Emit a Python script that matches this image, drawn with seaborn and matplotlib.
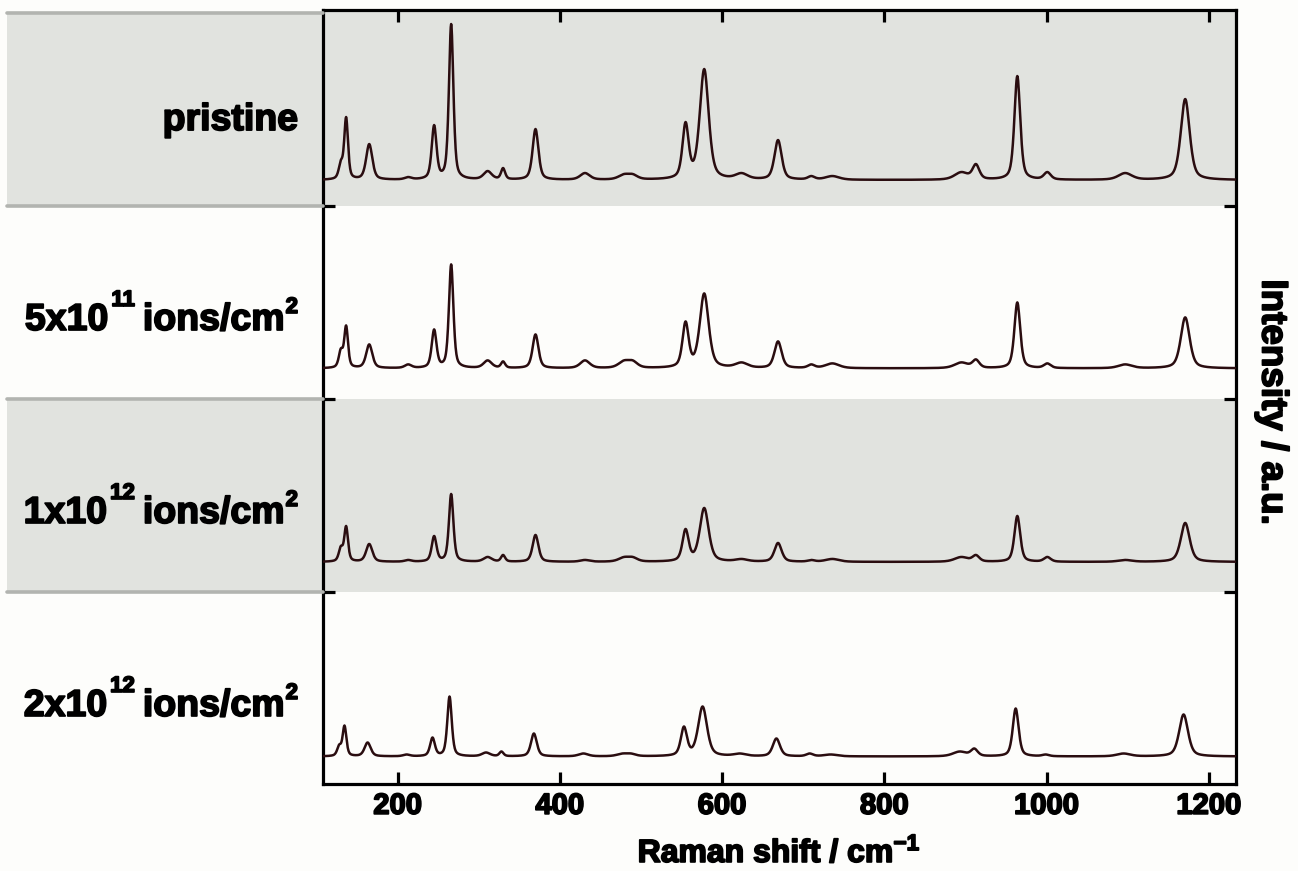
import numpy as np
import pandas as pd
import matplotlib
matplotlib.use("Agg")
import matplotlib.pyplot as plt
import matplotlib.patheffects as pe
import seaborn as sns
from matplotlib.patches import Rectangle
from matplotlib.lines import Line2D
from matplotlib.transforms import blended_transform_factory

# ---------------------------------------------------------------- data
# sample labels as (text, superscript) pieces
label_pristine = [("pristine", None)]
label_5e11 = [("5x10", "11"), ("ions/cm", "2")]
label_1e12 = [("1x10", "12"), ("ions/cm", "2")]
label_2e12 = [("2x10", "12"), ("ions/cm", "2")]
sample_labels = [label_pristine, label_5e11, label_1e12, label_2e12]

# Raman bands: centre (cm-1) and full width at half maximum (cm-1)
peak_centre = [130, 136.5, 165, 213, 245, 266, 311, 330, 370, 431, 479, 490,
               555, 578, 624, 669, 710, 736, 895, 913, 964, 1001, 1097, 1171]
peak_fwhm = [6, 5.5, 9, 10, 7, 6.5, 12, 6, 8.5, 14, 16, 14,
             9, 13, 18, 10.5, 10, 20, 20, 10, 8.5, 10, 20, 13]

# apparent band heights above the baseline (a.u.) for each fluence
height_pristine = [20, 63, 36, 3, 55, 156, 9, 12, 51, 7, 6, 6,
                   58, 111, 7, 40, 4, 4, 8, 16, 104, 8, 7, 81]
height_5e11 = [20, 43, 24, 4, 39, 104, 8, 7, 34, 8, 8, 8,
               47, 75, 6, 27, 4, 5, 6, 9, 66, 5, 4, 51]
height_1e12 = [16, 36, 18, 2, 26, 68, 5, 7, 27, 2, 5, 5,
               33, 54, 3, 19, 2, 3, 5, 7, 46, 5, 2, 39]
height_2e12 = [12, 31, 14, 2, 19, 60, 4, 5, 23, 3, 3, 3,
               30, 50, 3, 18, 3, 2, 5, 8, 48, 2, 3, 42]

# small peak shift of each sample (cm-1) and baseline level inside its panel
peak_shift = [0.0, 0.0, 0.0, -2.0]
baseline_level = [0.137, 0.161, 0.158, 0.150]

heights = [height_pristine, height_5e11, height_1e12, height_2e12]

# ---------------------------------------------------------------- spectra
def pseudo_voigt(x, c, w, eta=0.5):
    lor = 1.0 / (1.0 + ((x - c) / (w / 2.0)) ** 2)
    gau = np.exp(-4.0 * np.log(2.0) * ((x - c) / w) ** 2)
    return eta * lor + (1 - eta) * gau

wn = np.arange(108.0, 1233.5, 0.5)
centre = np.asarray(peak_centre, float)
fwhm = np.asarray(peak_fwhm, float)
units_per_panel = 193.0

frames = []
n_panels = len(sample_labels)
for k, h in enumerate(heights):
    c = centre + peak_shift[k]
    # amplitudes such that the summed profile reaches the listed heights
    A = pseudo_voigt(c[:, None], c[None, :], fwhm[None, :])
    amp = np.clip(np.linalg.solve(A, np.asarray(h, float)), 0, None)
    spec = (amp[None, :] * pseudo_voigt(wn[:, None], c[None, :], fwhm[None, :])).sum(axis=1)
    offset = (n_panels - 1 - k) + baseline_level[k]
    frames.append(pd.DataFrame({"shift": wn,
                                "y": offset + spec / units_per_panel,
                                "sample": k}))
df = pd.concat(frames, ignore_index=True)

# ---------------------------------------------------------------- style
sns.set_theme(style="white")
plt.rcParams["font.family"] = ["Liberation Sans", "DejaVu Sans"]
plt.rcParams["font.weight"] = "bold"
plt.rcParams["mathtext.fontset"] = "custom"
plt.rcParams["mathtext.rm"] = "Liberation Sans:bold"
plt.rcParams["mathtext.bf"] = "Liberation Sans:bold"
plt.rcParams["mathtext.it"] = "Liberation Sans:bold"

W, H = 1298, 871
band_grey = "#e1e3df"
rule_grey = "#b2b4b0"
paper = "#fdfdfb"
ink = "#2a0d10"
heavy = [pe.withStroke(linewidth=1.3, foreground="black")]

fig = plt.figure(figsize=(W / 100, H / 100), dpi=100, facecolor=paper)
ax = fig.add_axes([323 / W, 1 - 783.5 / H, 912.5 / W, 773.5 / H])
ax.set_facecolor(paper)
ax.set_xlim(108, 1233)
ax.set_ylim(0.01, 4.018)

# shaded panels for pristine and 1x10^12
ax.axhspan(3, 4.2, color=band_grey, lw=0, zorder=0)
ax.axhspan(1, 2, color=band_grey, lw=0, zorder=0)

sns.lineplot(data=df, x="shift", y="y", hue="sample",
             palette=[ink] * n_panels, legend=False, lw=1.8,
             estimator=None, sort=False, ax=ax, zorder=3)

# axes frame and ticks
for s in ax.spines.values():
    s.set_linewidth(2.3)
    s.set_color("black")
ax.set_xticks([200, 400, 600, 800, 1000, 1200])
ax.set_yticks([1, 2, 3])
ax.tick_params(axis="both", direction="in", length=8.5, width=2.3,
               top=True, right=True, left=True, bottom=True,
               labelleft=False, labelright=False, labelsize=21,
               pad=6, colors="black")
for t in ax.get_xticklabels():
    t.set_path_effects(heavy)
ax.set_xlabel(r"Raman shift / cm$^{\mathbf{-1}}$", fontsize=23,
              fontweight="bold", labelpad=13, color="black",
              path_effects=heavy)
ax.set_ylabel("")

# sample panels continued to the left of the axes
trans = blended_transform_factory(fig.transFigure, ax.transData)
x0, x1 = 7 / W, 323 / W
for lo in (3, 1):
    fig.add_artist(Rectangle((x0, lo), x1 - x0, 1.0, transform=trans,
                             facecolor=band_grey, edgecolor="none",
                             clip_on=False, zorder=0))
for yb in (4, 3, 2, 1):
    fig.add_artist(Line2D([x0, x1], [yb, yb], transform=trans,
                          color=rule_grey, lw=2.6, clip_on=False, zorder=1))

# sample labels, built piece by piece so the exponents sit like superscripts
renderer = fig.canvas.get_renderer()
base_size, sup_size = 27, 16
right_edge = 298.0
for k, pieces in enumerate(sample_labels):
    lo = n_panels - 1 - k
    rel = 0.396 if k == 0 else 0.36
    base_y = ax.transData.transform((0, lo + rel))[1]
    drawn = []
    x = 0.0
    for j, (txt, sup) in enumerate(pieces):
        t = fig.text(x / W, base_y / H, txt, ha="left", va="baseline",
                     fontsize=base_size, fontweight="bold", color="black",
                     path_effects=heavy)
        bb = t.get_window_extent(renderer)
        drawn.append(t)
        x = bb.x1
        if sup is not None:
            x += 3 if j == 0 else 1
            rise = 24 if j == 0 else 17
            s = fig.text(x / W, (base_y + rise) / H, sup, ha="left",
                         va="baseline", fontsize=sup_size, fontweight="bold",
                         color="black", path_effects=heavy)
            sb = s.get_window_extent(renderer)
            drawn.append(s)
            x = sb.x1 + (8 if j == 0 else 0)
    shift = right_edge - x
    for t in drawn:
        px, py = t.get_position()
        t.set_position((px + shift / W, py))

fig.text(1272 / W, 1 - 402 / H, "Intensity / a.u.", rotation=270,
         ha="center", va="center", fontsize=26.5, fontweight="bold",
         color="black", path_effects=heavy)

fig.savefig("out.png", dpi=100, facecolor=paper)
